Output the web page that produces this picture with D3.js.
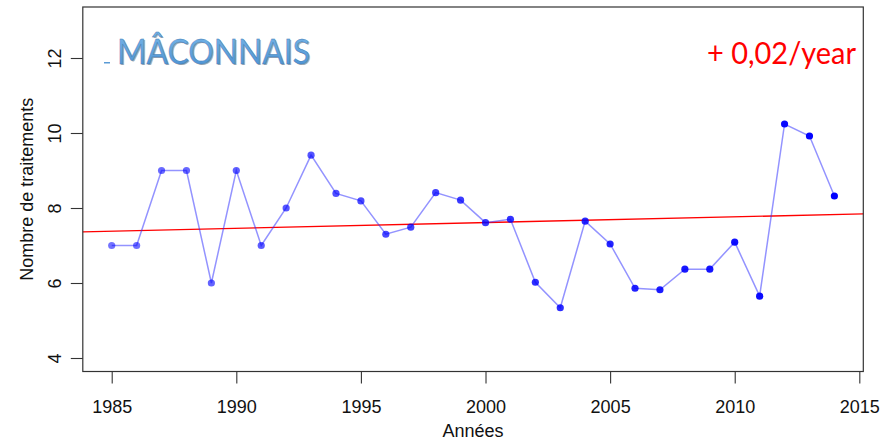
<!DOCTYPE html>
<html>
<head>
<meta charset="utf-8">
<script src="https://cdn.jsdelivr.net/npm/d3@7/dist/d3.min.js"></script>
<style>
  html, body { margin: 0; padding: 0; background: #fff; }
  svg { display: block; }
</style>
</head>
<body>
<svg id="chart" width="892" height="440"></svg>
<script>
// ---- data ----
const years = [1985,1986,1987,1988,1989,1990,1991,1992,1993,1994,1995,1996,1997,1998,1999,
               2000,2001,2002,2003,2004,2005,2006,2007,2008,2009,2010,2011,2012,2013,2014];
const traitements = [7.0,7.0,9.0,9.0,6.0,9.0,7.0,8.0,9.41,8.39,8.19,7.30,7.49,8.41,8.21,
                     7.61,7.70,6.02,5.34,7.65,7.04,5.86,5.82,6.37,6.37,7.09,5.65,10.24,9.92,8.32];
const xTicks = [1985,1990,1995,2000,2005,2010,2015];
const yTicks = [4,6,8,10,12];
const trendYears = [1983.84, 2015.16];
const trendValues = [7.364, 7.843];
const titleText = "MÂCONNAIS";
const slopeText = "+ 0,02/year";
const xLabel = "Années";
const yLabel = "Nombre de traitements";

// ---- layout ----
const svg = d3.select("#chart");
const pLeft = 82.8, pRight = 863.3, pTop = 7, pBottom = 371.5;
const x = d3.scaleLinear().domain([1983.84, 2015.16]).range([pLeft, pRight]);
const y = d3.scaleLinear().domain([3.64, 13.36]).range([pBottom, pTop]);

// trend line
svg.append("line")
  .attr("x1", x(trendYears[0])).attr("y1", y(trendValues[0]))
  .attr("x2", x(trendYears[1])).attr("y2", y(trendValues[1]))
  .attr("stroke", "#ff0000").attr("stroke-width", 1.4);

// series line
const pts = years.map((yr, i) => ({yr, v: traitements[i], i}));
svg.append("path")
  .datum(pts)
  .attr("fill", "none")
  .attr("stroke", "rgba(40,40,255,0.5)")
  .attr("stroke-width", 1.5)
  .attr("d", d3.line().x(d => x(d.yr)).y(d => y(d.v)));

// points with increasing opacity
const alpha = d3.scaleLinear().domain([0, years.length - 1]).range([0.55, 1]);
svg.append("g").selectAll("circle")
  .data(pts).join("circle")
  .attr("cx", d => x(d.yr)).attr("cy", d => y(d.v))
  .attr("r", 3.6)
  .attr("fill", d => `rgba(0,0,255,${alpha(d.i)})`);

// box
svg.append("rect")
  .attr("x", pLeft).attr("y", pTop)
  .attr("width", pRight - pLeft).attr("height", pBottom - pTop)
  .attr("fill", "none").attr("stroke", "#333").attr("stroke-width", 1.2);

// x axis
const xAxis = svg.append("g").attr("transform", `translate(0,${pBottom})`)
  .call(d3.axisBottom(x).tickValues(xTicks).tickFormat(d3.format("d")).tickSize(12).tickPadding(17));
xAxis.select(".domain").remove();
xAxis.selectAll(".tick line").attr("stroke", "#333").attr("stroke-width", 1.1);
xAxis.selectAll(".tick text").attr("font-family", "Liberation Sans, Arial, sans-serif")
  .attr("font-size", 18).attr("fill", "#111");

// y axis
const yAxis = svg.append("g").attr("transform", `translate(${pLeft},0)`)
  .call(d3.axisLeft(y).tickValues(yTicks).tickSize(12).tickPadding(6));
yAxis.select(".domain").remove();
yAxis.selectAll(".tick line").attr("stroke", "#333").attr("stroke-width", 1.1);
yAxis.selectAll(".tick text")
  .attr("font-family", "Liberation Sans, Arial, sans-serif")
  .attr("font-size", 18).attr("fill", "#111")
  .attr("text-anchor", "middle")
  .attr("dy", null)
  .attr("x", null)
  .attr("transform", "translate(-28,0) rotate(-90)")
  .attr("dominant-baseline", "central");

// axis titles
svg.append("text")
  .attr("x", (pLeft + pRight) / 2).attr("y", 437)
  .attr("text-anchor", "middle")
  .attr("font-family", "Liberation Sans, Arial, sans-serif")
  .attr("font-size", 18).attr("fill", "#111")
  .text(xLabel);
svg.append("text")
  .attr("transform", `translate(27,${(pTop + pBottom) / 2}) rotate(-90)`)
  .attr("text-anchor", "middle")
  .attr("dominant-baseline", "central")
  .attr("font-family", "Liberation Sans, Arial, sans-serif")
  .attr("font-size", 18).attr("fill", "#111")
  .text(yLabel);

// title with WordArt-like styling
const defs = svg.append("defs");
const grad = defs.append("linearGradient").attr("id", "tgrad")
  .attr("x1", 0).attr("y1", 0).attr("x2", 0).attr("y2", 1);
grad.append("stop").attr("offset", "0%").attr("stop-color", "#7ab8ea");
grad.append("stop").attr("offset", "100%").attr("stop-color", "#4a8fcf");

svg.append("rect").attr("x", 104).attr("y", 62).attr("width", 6).attr("height", 1.5)
  .attr("fill", "#5b9bd5");
svg.append("text")
  .attr("x", 118.2).attr("y", 65.2)
  .attr("font-family", "Lato, 'Open Sans', sans-serif")
  .attr("font-size", 35).attr("fill", "#556677").attr("opacity", 0.55)
  .attr("textLength", 193).attr("lengthAdjust", "spacingAndGlyphs")
  .text(titleText);
svg.append("text")
  .attr("x", 117).attr("y", 64)
  .attr("font-family", "Lato, 'Open Sans', sans-serif")
  .attr("font-size", 35).attr("fill", "url(#tgrad)")
  .attr("stroke", "#3a78b4").attr("stroke-width", 0.4)
  .attr("textLength", 193).attr("lengthAdjust", "spacingAndGlyphs")
  .text(titleText);

svg.append("text")
  .attr("x", 707).attr("y", 63.5)
  .attr("font-family", "Lato, 'Open Sans', sans-serif")
  .attr("font-size", 30).attr("fill", "#ff0000")
  .attr("textLength", 149).attr("lengthAdjust", "spacingAndGlyphs")
  .text(slopeText);
</script>
</body>
</html>
